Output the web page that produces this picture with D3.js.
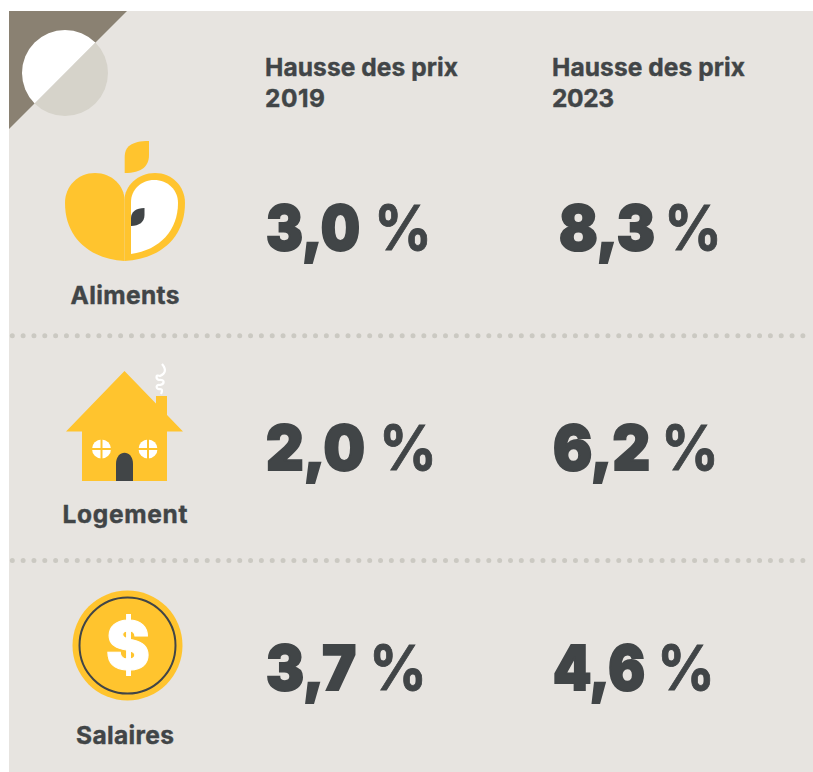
<!DOCTYPE html>
<html>
<head>
<meta charset="utf-8">
<script src="https://cdn.jsdelivr.net/npm/d3@7/dist/d3.min.js"></script>
<style>
html, body { margin: 0; padding: 0; background: #fff; }
svg { display: block; }
text { fill: #414547; font-family: "Inter", "Lato", sans-serif; }
</style>
</head>
<body>
<svg width="813" height="772"></svg>
<script>
var categories = ["Aliments", "Logement", "Salaires"];
var years = ["2019", "2023"];
var hausse2019 = [3.0, 2.0, 3.7];
var hausse2023 = [8.3, 6.2, 4.6];

var svg = d3.select("svg"),
	width = +svg.attr("width"),
	height = +svg.attr("height");

var yellow = "#ffc42e",
	dark = "#414547",
	panelColor = "#e7e4e0";

var row = d3.scalePoint().domain(categories).range([0, 440]);
var col = d3.scalePoint().domain(years).range([265, 552]);
var fr = d3.formatLocale({ decimal: ",", thousands: " ", grouping: [3], currency: ["", ""] }).format(".1f");

// fond
svg.append("rect").attr("x", 9).attr("y", 11).attr("width", width - 9).attr("height", height - 11).attr("fill", panelColor);

// coin
svg.append("path").attr("d", "M9,11H127L9,129Z").attr("fill", "#8a8172");
svg.append("path").attr("d", d3.arc()({ innerRadius: 0, outerRadius: 43, startAngle: Math.PI / 4, endAngle: Math.PI * 5 / 4 }))
	.attr("transform", "translate(65,73)").attr("fill", "#d6d3ca");
svg.append("path").attr("d", d3.arc()({ innerRadius: 0, outerRadius: 43, startAngle: Math.PI * 5 / 4, endAngle: Math.PI * 9 / 4 }))
	.attr("transform", "translate(65,73)").attr("fill", "#fff");

// entetes
var yearW = [60, 62];
years.forEach(function(y, i) {
	svg.append("text").attr("x", col(y)).attr("y", 76).attr("font-size", 24.5).attr("font-weight", 700)
		.attr("stroke", dark).attr("stroke-width", 0.4)
		.attr("textLength", 193).text("Hausse des prix");
	svg.append("text").attr("x", col(y)).attr("y", 107).attr("font-size", 24.5).attr("font-weight", 700)
		.attr("stroke", dark).attr("stroke-width", 0.4)
		.attr("textLength", yearW[i]).text(y);
});

// separateurs
[335.7, 560.5].forEach(function(y) {
	svg.append("line").attr("x1", 12.3).attr("x2", width).attr("y1", y).attr("y2", y)
		.attr("stroke", "#cbc9c2").attr("stroke-width", 5).attr("stroke-linecap", "round").attr("stroke-dasharray", "0 10.83");
});

// libelles
var labelY = [304, 523, 744];
var labelW = [109, 125, 98];
svg.selectAll(".cat")
	.data(categories)
	.enter().append("text")
	.attr("class", "cat")
	.attr("x", function(d, i) { return 125 - labelW[i] / 2; })
	.attr("y", function(d, i) { return labelY[i]; })
	.attr("font-size", 24.5)
	.attr("font-weight", 700)
	.attr("stroke", dark)
	.attr("stroke-width", 0.4)
	.attr("textLength", function(d, i) { return labelW[i]; })
	.text(function(d) { return d; });

// valeurs
var valueX = [[266, 559], [266, 553], [266, 553]];
var numberW = [[94, 96], [99, 97], [90, 92]];
var percentX = [[378, 668], [383, 665], [373, 661]];
function drawValues(values, c) {
	svg.selectAll(".val" + c)
		.data(values)
		.enter().append("text")
		.attr("class", "val" + c)
		.attr("x", function(d, i) { return valueX[i][c]; })
		.attr("y", function(d, i) { return 250 + row(categories[i]); })
		.attr("font-size", 62)
		.attr("font-weight", 900)
		.attr("stroke", dark)
		.attr("stroke-width", 2)
		.attr("textLength", function(d, i) { return numberW[i][c]; })
		.attr("lengthAdjust", "spacingAndGlyphs")
		.text(function(d) { return fr(d); });
	svg.selectAll(".pct" + c)
		.data(values)
		.enter().append("text")
		.attr("class", "pct" + c)
		.attr("x", function(d, i) { return percentX[i][c] - 4; })
		.attr("y", function(d, i) { return 250 + row(categories[i]); })
		.attr("font-size", 62)
		.attr("font-weight", 700)
		.attr("stroke", dark)
		.attr("stroke-width", 0.8)
		.attr("textLength", 58)
		.attr("lengthAdjust", "spacingAndGlyphs")
		.text("%");
}
drawValues(hausse2019, 0);
drawValues(hausse2023, 1);

// pomme
var apple = svg.append("g");
apple.append("path").attr("d", "M124.7,173V157C124.7,147 131,141 149,141V155C149,166 142,173 124.7,173Z").attr("fill", yellow);
apple.append("path").attr("d", "M124.5,261C90,259 65,238 65,203C65,186 78,173 95,173C112,173 124.5,186 124.5,200Z").attr("fill", yellow);
apple.append("path").attr("d", "M124.5,261V200C124.5,186 138,173 155,173C172,173 185,186 185,203C185,238 160,259 124.5,261Z").attr("fill", yellow);
apple.append("path").attr("d", "M131,254V202C131,190 141,180 154,180C168,180 178,190 178,203C178,230 160,250 131,254Z").attr("fill", "#fff");
apple.append("path").attr("d", "M131,226V218C131,212 136,208 144.5,208V215C144.5,222 139,226 131,226Z").attr("fill", dark);

// maison
var house = svg.append("g");
house.append("path").attr("d", "M156,396H167V430L156,420Z").attr("fill", yellow);
house.append("path").attr("d", "M124.5,371L183,431.5H167V481H82V431.5H66Z").attr("fill", yellow);
house.append("path").attr("d", "M116,481V464C116,449 133,449 133,464V481Z").attr("fill", dark);
[101.5, 148].forEach(function(x) {
	house.append("circle").attr("cx", x).attr("cy", 449).attr("r", 9.5).attr("fill", "#fff");
	house.append("rect").attr("x", x - 1).attr("y", 439).attr("width", 2).attr("height", 20).attr("fill", yellow);
	house.append("rect").attr("x", x - 10).attr("y", 448).attr("width", 20).attr("height", 2).attr("fill", yellow);
});
house.append("path").attr("d", "M162,364C167,370 165,374 160,376C155,374 156,379 159,380C165,379 165,384 160,385C155,384 156,390 160,389C163,389 162,392 161,394")
	.attr("fill", "none").attr("stroke", "#fff").attr("stroke-width", 2.2);

// piece
svg.append("circle").attr("cx", 127.5).attr("cy", 645.5).attr("r", 55).attr("fill", yellow);
svg.append("circle").attr("cx", 127.5).attr("cy", 645.5).attr("r", 48).attr("fill", "none").attr("stroke", dark).attr("stroke-width", 2);
svg.append("text").attr("x", 128).attr("y", 669).attr("text-anchor", "middle")
	.attr("font-size", 66).attr("font-weight", 900).attr("stroke", "#fff").attr("stroke-width", 1).style("fill", "#fff").text("$");
</script>
</body>
</html>
